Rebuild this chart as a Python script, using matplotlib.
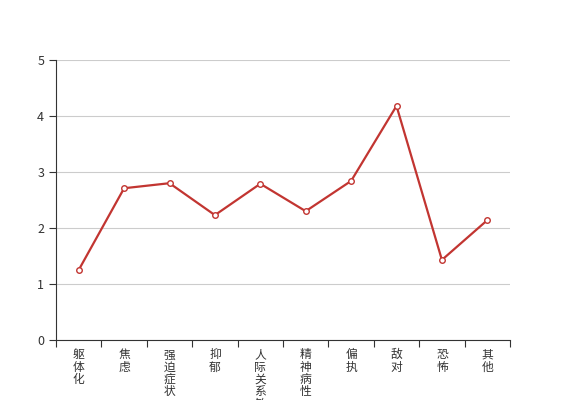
import numpy as np
import matplotlib
matplotlib.use('Agg')
import matplotlib.pyplot as plt

plt.rcParams['font.family'] = ['Noto Sans CJK SC', 'DejaVu Sans']

#------
#data
categories = ['躯体化', '焦虑', '强迫症状', '抑郁', '人际关系敏感',
              '精神病性', '偏执', '敌对', '恐怖', '其他']
scores = [1.25, 2.71, 2.80, 2.23, 2.79, 2.30, 2.84, 4.18, 1.43, 2.14]

#------
#plot
fig = plt.figure(figsize=(5.67, 4.0), dpi=100)
ax = fig.add_axes([56 / 567, 0.15, 454 / 567, 0.70])

x = np.arange(len(categories))
ax.plot(x, scores, color='#c23531', lw=1.6, marker='o', ms=4,
        mfc='white', mec='#c23531', mew=1.0, zorder=3)

ax.set_xlim(-0.5, len(categories) - 0.5)
ax.set_ylim(0, 5)
ax.set_yticks(range(6))
ax.yaxis.grid(True, color='#cccccc', lw=0.8)
ax.set_axisbelow(True)

# category ticks sit between the labels, labels are stacked vertically
ax.set_xticks(np.arange(-0.5, len(categories)), minor=False)
ax.set_xticklabels([])
ax.set_xticks(x, minor=True)
ax.set_xticklabels(['\n'.join(c) for c in categories], minor=True,
                   fontsize=8.5, color='#333333', va='top', linespacing=0.93)
ax.tick_params(axis='x', which='minor', length=0, pad=6)
ax.tick_params(axis='x', which='major', length=5, color='#333333')
ax.tick_params(axis='y', length=5, labelsize=9, labelcolor='#333333',
               color='#333333')

for s in ['top', 'right']:
    ax.spines[s].set_visible(False)
for s in ['left', 'bottom']:
    ax.spines[s].set_color('#333333')

fig.savefig('out.png', dpi=100)
